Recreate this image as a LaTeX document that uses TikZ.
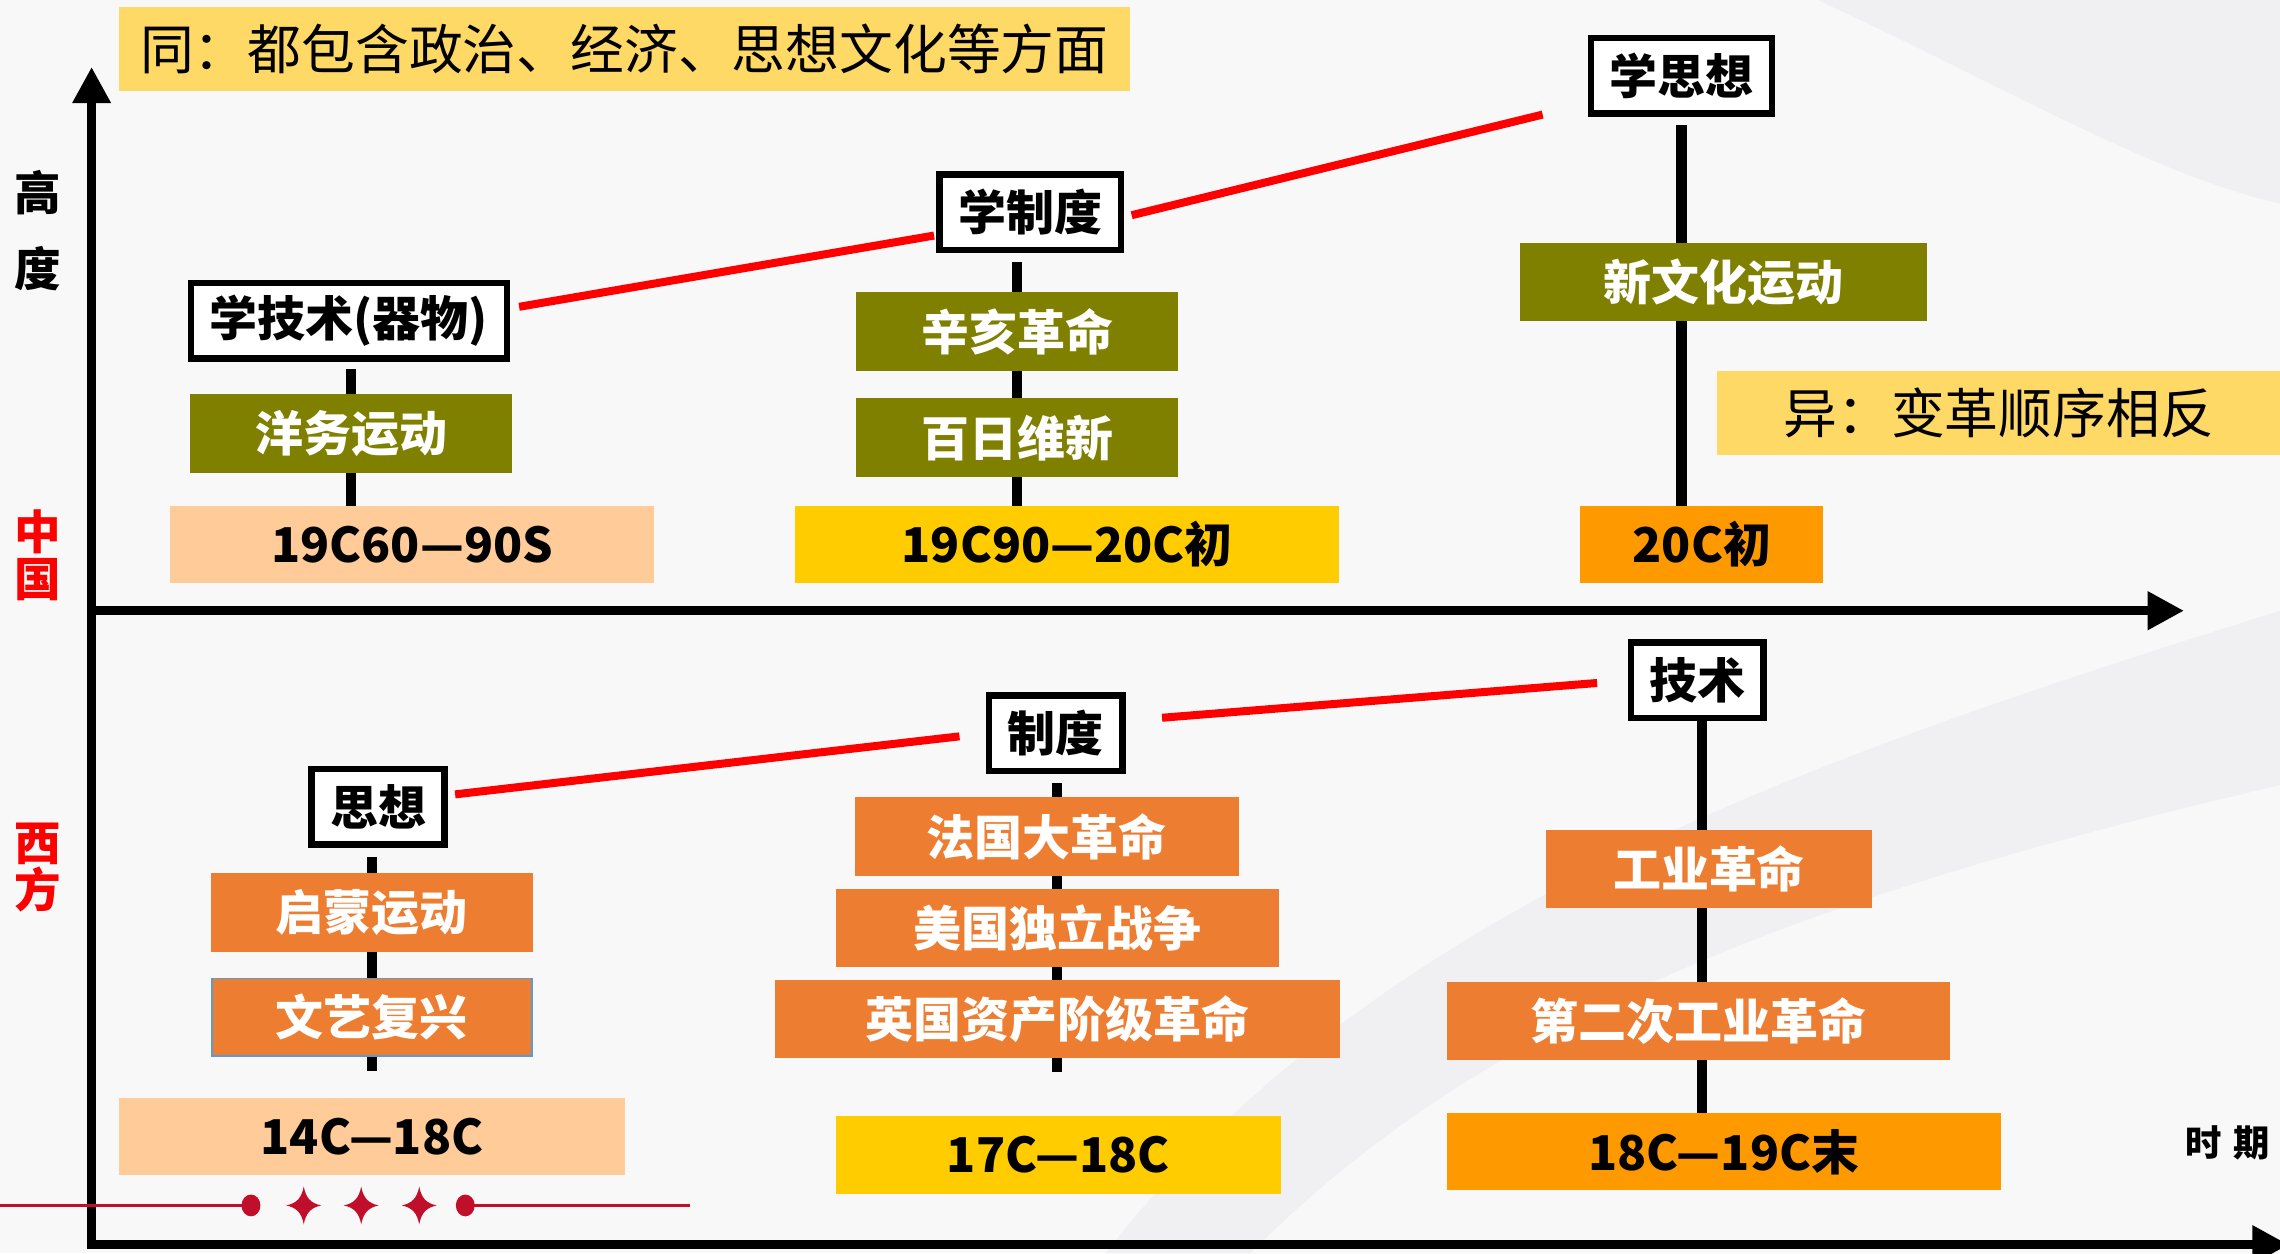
\documentclass[tikz,border=0pt]{standalone}
\usepackage{fontspec}
\newfontfamily\cjk{Noto Sans CJK SC}
\usetikzlibrary{arrows.meta}
\definecolor{hdr}{HTML}{FFD966}
\definecolor{olivebox}{HTML}{7F7F00}
\definecolor{peach}{HTML}{FFCC99}
\definecolor{gold}{HTML}{FFCC00}
\definecolor{orng}{HTML}{FF9900}
\definecolor{evt}{HTML}{ED7D31}
\definecolor{bluebd}{HTML}{5B9BD5}
\definecolor{deco}{HTML}{C00F2A}
\definecolor{bgc}{HTML}{F8F8F9}
\definecolor{swoosh}{HTML}{F0F0F2}
\pgfdeclarelayer{bgfill}
\pgfdeclarelayer{lines}
\pgfsetlayers{bgfill,lines,main}
\tikzset{
  box/.style={inner sep=0pt, font={\cjk\bfseries\fontsize{33}{36}\selectfont}},
  titlebox/.style={box, draw=black, line width=4.5pt, fill=white, minimum height=52pt},
  evtbox/.style={box, text=white, minimum height=54pt},
  datebox/.style={box, text=black, minimum height=53pt},
  notebox/.style={inner sep=0pt, fill=hdr, minimum height=57.6pt, font={\cjk\fontsize{37}{40}\selectfont}},
  sidelabel/.style={inner sep=0pt, font={\cjk\bfseries\fontsize{32}{34}\selectfont}},
  vline/.style={line width=7pt, black},
  redline/.style={line width=5.5pt, red},
  axisline/.style={line width=6.5pt, black, -{Triangle[length=25pt,width=25pt]}},
  decoline/.style={line width=2.5pt, deco},
}
\begin{document}
\begin{tikzpicture}[x=1pt,y=-1pt]
\useasboundingbox (0,0) rectangle (1568,862);
\clip (0,0) rectangle (1568,862);
% background
\begin{pgfonlayer}{bgfill}
\fill[bgc] (0,0) rectangle (1568,862);
\fill[swoosh] (760,862) .. controls (950,620) and (1250,520) .. (1568,420) -- (1568,862) -- cycle;
\fill[bgc] (860,862) .. controls (1030,690) and (1270,610) .. (1568,540) -- (1568,862) -- cycle;
\fill[swoosh] (1250,0) .. controls (1380,60) and (1480,120) .. (1568,140) -- (1568,0) -- cycle;
\end{pgfonlayer}

% axes
\coordinate (O) at (63,856);
\coordinate (Ytip) at (63,46);
\coordinate (Mstart) at (63,420);
\coordinate (Mtip) at (1502,420);
\coordinate (Btip) at (1574,856);
\draw[axisline] ([yshift=-3.25pt]O) -- (Ytip);
\draw[axisline] (Mstart) -- (Mtip);
\draw[axisline] ([xshift=-3.25pt]O) -- (Btip);

% header notes
\node[notebox, minimum width=695.4pt] (same) at (429.3,33.7) {同：都包含政治、经济、思想文化等方面};
\node[notebox, minimum width=387pt] (diff) at (1374.5,283.8) {异：变革顺序相反};

% side labels
\node[sidelabel] (lg) at (26,132.5) {高};
\node[sidelabel] (ld) at (26,185) {度};
\node[sidelabel, text=red] (lz) at (26,366) {中};
\node[sidelabel, text=red] (lgu) at (26,398.7) {国};
\node[sidelabel, text=red] (lx) at (26,580) {西};
\node[sidelabel, text=red] (lf) at (26,611.6) {方};
\node[inner sep=0pt, font={\cjk\bfseries\fontsize{25}{28}\selectfont}] (period) at (1532,786) {时\hspace{8pt}期};

% ===== China =====
\node[titlebox, minimum width=217.5pt] (t1) at (240,220.7) {学技术(器物)};
\node[evtbox, fill=olivebox, minimum width=221pt] (c1) at (241.5,298) {洋务运动};
\node[datebox, fill=peach, minimum width=333pt] (d1) at (283.5,374.5) {19C60—90S};

\node[titlebox, minimum width=125pt] (t2) at (708.5,146) {学制度};
\node[evtbox, fill=olivebox, minimum width=221pt] (c2a) at (699.5,228) {辛亥革命};
\node[evtbox, fill=olivebox, minimum width=221pt] (c2b) at (699.5,301) {百日维新};
\node[datebox, fill=gold, minimum width=374pt] (d2) at (734,374.5) {19C90—20C初};

\node[titlebox, minimum width=124.5pt] (t3) at (1156.4,52) {学思想};
\node[evtbox, fill=olivebox, minimum width=280pt] (c3) at (1185.3,194) {新文化运动};
\node[datebox, fill=orng, minimum width=167pt] (d3) at (1170.4,374.5) {20C初};

% ===== West =====
\node[titlebox, minimum width=91.5pt] (w1) at (260,554.8) {思想};
\node[evtbox, fill=evt, minimum width=221pt] (e1a) at (255.8,627.7) {启蒙运动};
\node[evtbox, fill=evt, draw=bluebd, line width=1.2pt, minimum width=220pt, minimum height=53pt] (e1b) at (255.8,699.5) {文艺复兴};
\node[datebox, fill=peach, minimum width=348.4pt] (f1) at (255.8,781.7) {14C—18C};

\node[titlebox, minimum width=92pt] (w2) at (726.1,504.3) {制度};
\node[evtbox, fill=evt, minimum width=264.3pt] (e2a) at (719.9,575.4) {法国大革命};
\node[evtbox, fill=evt, minimum width=305pt] (e2b) at (727.1,638.1) {美国独立战争};
\node[evtbox, fill=evt, minimum width=388.6pt] (e2c) at (727.3,700.7) {英国资产阶级革命};
\node[datebox, fill=gold, minimum width=306.4pt] (f2) at (727.8,794.3) {17C—18C};

\node[titlebox, minimum width=91pt] (w3) at (1167.3,467.9) {技术};
\node[evtbox, fill=evt, minimum width=224.5pt] (e3a) at (1175.3,597.6) {工业革命};
\node[evtbox, fill=evt, minimum width=345.7pt] (e3b) at (1167.9,702.2) {第二次工业革命};
\node[datebox, fill=orng, minimum width=381pt] (f3) at (1185.5,792.2) {18C—19C末};

% vertical connectors (behind boxes)
\begin{pgfonlayer}{lines}
\draw[vline] ([xshift=1.5pt,yshift=-5pt]t1.south) -- ([xshift=1.5pt]t1.south |- d1.north);
\draw[vline] ([yshift=-6pt]c2a.center |- t2.south) -- (c2a.center |- d2.north);
\draw[vline] ([yshift=-6pt]t3.south) -- (t3.south |- d3.north);
\draw[vline] ([yshift=-6pt]e1a.center |- w1.south) -- ([yshift=-10pt]e1b.south);
\draw[vline] ([xshift=1pt,yshift=-6pt]w2.south) -- ([xshift=1pt,yshift=-9pt]w2.south |- e2c.south);
\draw[vline] ([xshift=3.2pt]w3.south) -- ([xshift=3.2pt]w3.south |- f3.north);
\end{pgfonlayer}

% red progression lines
\draw[redline] ([xshift=6pt,yshift=9.7pt]t1.east) -- ([xshift=-1.4pt,yshift=-16pt]t2.west);
\draw[redline] ([xshift=5pt,yshift=-2pt]t2.east) -- ([xshift=-31pt,yshift=-26.8pt]t3.west);
\draw[redline] ([xshift=5pt,yshift=8.5pt]w1.east) -- ([xshift=-18pt,yshift=-2.1pt]w2.west);
\draw[redline] ([xshift=24.8pt,yshift=10.7pt]w2.east) -- ([xshift=-21.2pt,yshift=-1.8pt]w3.west);

% decoration
\coordinate (dl) at (0,829);
\coordinate (dc1) at (172.6,829);
\coordinate (dc2) at (320,829);
\coordinate (dr) at (474.7,829);
\draw[decoline] (dl) -- (dc1);
\draw[decoline] (dc2) -- (dr);
\fill[deco] (dc1) ellipse[x radius=6.5pt, y radius=7.5pt];
\fill[deco] (dc2) ellipse[x radius=6.5pt, y radius=7.5pt];
\foreach \sx in {208.9,248.4,288.3}
  \fill[deco, shift={(\sx,829)}] (0,-13) .. controls (1.5,-5) and (5,-1.5) .. (12,0) .. controls (5,1.5) and (1.5,5) .. (0,13) .. controls (-1.5,5) and (-5,1.5) .. (-12,0) .. controls (-5,-1.5) and (-1.5,-5) .. (0,-13) -- cycle;
\end{tikzpicture}
\end{document}
